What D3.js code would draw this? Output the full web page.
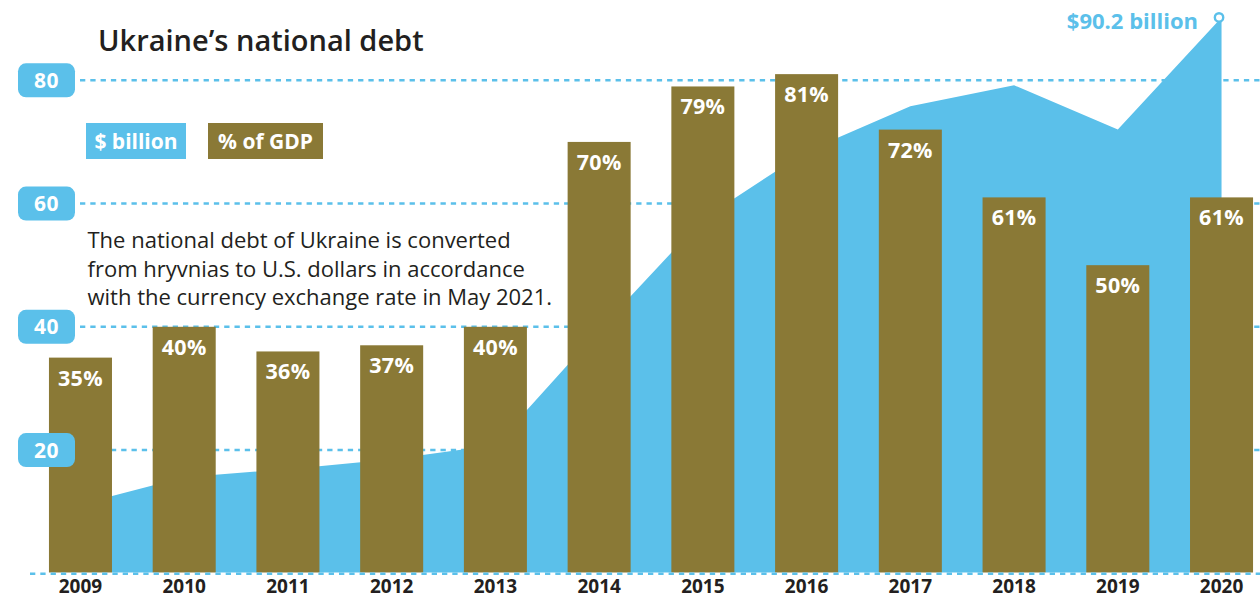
<!DOCTYPE html>
<html>
<head>
<meta charset="utf-8">
<script src="https://cdn.jsdelivr.net/npm/d3@7/dist/d3.min.js"></script>
<style>
  html, body { margin: 0; padding: 0; background: #fff; }
  svg { display: block; }
  text { font-family: "Open Sans", Lato, sans-serif; }
</style>
</head>
<body>
<svg id="chart" width="1260" height="599"></svg>
<script>
// Ukraine's national debt, 2009–2020
const years = ["2009","2010","2011","2012","2013","2014","2015","2016","2017","2018","2019","2020"];
const debtBillion = [11.2, 15.6, 16.9, 18.5, 20.8, 39.5, 57.5, 68.5, 75.8, 79.2, 72.0, 90.2];
const debtPctGdp = [35, 40, 36, 37, 40, 70, 79, 81, 72, 61, 50, 61];
const yTicks = [20, 40, 60, 80];
const lastLabel = "$90.2 billion";
const noteLines = [
  "The national debt of Ukraine is converted",
  "from hryvnias to U.S. dollars in accordance",
  "with the currency exchange rate in May 2021."
];

const BLUE = "#5bc0ea";
const OLIVE = "#8a7936";
const INK = "#231f20";
const FONT = "'Open Sans', Lato, sans-serif";

const svg = d3.select("#chart");

const x = d3.scaleBand()
  .domain(years)
  .range([28.6, 1273.4])
  .paddingInner(0.3925)
  .paddingOuter(0.19625);

const y = d3.scaleLinear()
  .domain([0, 80])
  .range([573.3, 80.3]);

const cx = d => x(d) + x.bandwidth() / 2;

// dashed gridlines (behind everything)
svg.append("g")
  .selectAll("line")
  .data(yTicks)
  .join("line")
  .attr("x1", 80).attr("x2", 1260)
  .attr("y1", d => y(d)).attr("y2", d => y(d))
  .attr("stroke", BLUE)
  .attr("stroke-width", 2.6)
  .attr("stroke-dasharray", "5.3 5");

// debt in $ billion as an area
const pts = years.map((yr, i) => ({ yr, v: debtBillion[i] }));
const area = d3.area()
  .x(d => cx(d.yr))
  .y0(y(0))
  .y1(d => y(d.v));
svg.append("path")
  .datum(pts)
  .attr("d", area)
  .attr("fill", BLUE);

// % of GDP bars
svg.append("g")
  .selectAll("rect")
  .data(years)
  .join("rect")
  .attr("x", d => x(d))
  .attr("width", x.bandwidth())
  .attr("y", (d, i) => y(debtPctGdp[i]))
  .attr("height", (d, i) => y(0) - y(debtPctGdp[i]))
  .attr("fill", OLIVE);

svg.append("g")
  .selectAll("text")
  .data(years)
  .join("text")
  .attr("x", d => cx(d))
  .attr("y", (d, i) => y(debtPctGdp[i]) + 28)
  .attr("text-anchor", "middle")
  .attr("fill", "#fff")
  .attr("font-size", 21.5)
  .attr("font-weight", 700)
  .attr("letter-spacing", 0.3)
  .text((d, i) => debtPctGdp[i] + "%");

// baseline
svg.append("line")
  .attr("x1", 30).attr("x2", 1260)
  .attr("y1", y(0) + 0.5).attr("y2", y(0) + 0.5)
  .attr("stroke", "#fff").attr("stroke-width", 2.4);
svg.append("line")
  .attr("x1", 30).attr("x2", 1260)
  .attr("y1", y(0) + 0.5).attr("y2", y(0) + 0.5)
  .attr("stroke", BLUE).attr("stroke-width", 2.4)
  .attr("stroke-dasharray", "5.3 5");

// y tick labels in rounded boxes
const yl = svg.append("g")
  .selectAll("g")
  .data(yTicks)
  .join("g")
  .attr("transform", d => `translate(18,${y(d)})`);
yl.append("rect")
  .attr("x", 0).attr("y", -17)
  .attr("width", 57).attr("height", 34)
  .attr("rx", 8)
  .attr("fill", BLUE);
yl.append("text")
  .attr("x", 28.5).attr("y", 7.5)
  .attr("text-anchor", "middle")
  .attr("fill", "#fff")
  .attr("font-size", 21)
  .attr("font-weight", 700)
  .attr("letter-spacing", 0.5)
  .text(d => d);

// x axis (years)
const xAxis = svg.append("g")
  .attr("transform", `translate(0,${y(0)})`)
  .call(d3.axisBottom(x).tickSize(0).tickPadding(0));
xAxis.select(".domain").remove();
xAxis.selectAll("text")
  .attr("font-family", FONT)
  .attr("font-size", 19)
  .attr("font-weight", 700)
  .attr("fill", INK)
  .attr("y", 20)
  .attr("dy", 0);

// last value marker
const last = pts[pts.length - 1];
svg.append("circle")
  .attr("cx", cx(last.yr) - 2.5)
  .attr("cy", y(last.v))
  .attr("r", 4.2)
  .attr("fill", "#fff")
  .attr("stroke", BLUE)
  .attr("stroke-width", 2.4);
svg.append("text")
  .attr("x", 1198)
  .attr("y", 29)
  .attr("text-anchor", "end")
  .attr("fill", BLUE)
  .attr("font-size", 22)
  .attr("font-weight", 700)
  .text(lastLabel);

// title
svg.append("text")
  .attr("x", 98)
  .attr("y", 51)
  .attr("fill", INK)
  .attr("font-size", 29)
  .attr("font-weight", 600)
  .text("Ukraine’s national debt");

// legend
const legend = [
  { label: "$ billion", color: BLUE, x: 86, w: 100 },
  { label: "% of GDP", color: OLIVE, x: 208, w: 115 }
];
const lg = svg.append("g")
  .selectAll("g")
  .data(legend)
  .join("g")
  .attr("transform", d => `translate(${d.x},123)`);
lg.append("rect")
  .attr("width", d => d.w)
  .attr("height", 36)
  .attr("fill", d => d.color);
lg.append("text")
  .attr("x", d => d.w / 2)
  .attr("y", 25.5)
  .attr("text-anchor", "middle")
  .attr("fill", "#fff")
  .attr("font-size", 21)
  .attr("font-weight", 700)
  .text(d => d.label);

// explanatory note
svg.append("g")
  .selectAll("text")
  .data(noteLines)
  .join("text")
  .attr("x", 87.5)
  .attr("y", (d, i) => 248 + i * 28.5)
  .attr("fill", INK)
  .attr("font-size", 22)
  .text(d => d);
</script>
</body>
</html>
